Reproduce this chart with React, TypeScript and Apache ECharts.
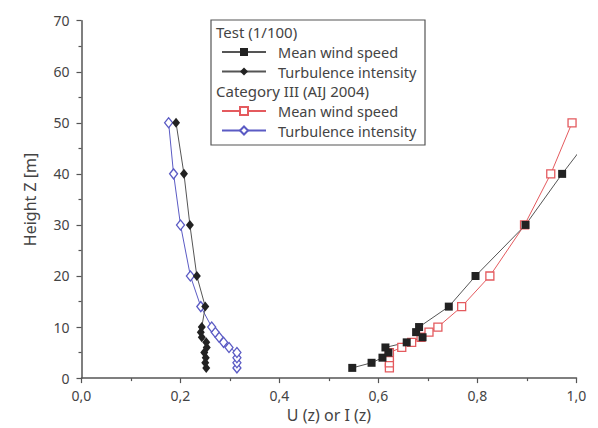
import React, { useEffect, useRef } from "react";
import * as echarts from "echarts";

const heights = [2, 3, 4, 5, 6, 7, 8, 9, 10, 14, 20, 30, 40, 50];
const testMeanU = [0.547, 0.586, 0.608, 0.62, 0.614, 0.657, 0.689, 0.676, 0.682, 0.742, 0.796, 0.897, 0.971, 1.05];
const testTI = [0.252, 0.25, 0.251, 0.248, 0.253, 0.252, 0.243, 0.241, 0.243, 0.25, 0.233, 0.219, 0.207, 0.191];
const aijMeanU = [0.622, 0.622, 0.622, 0.622, 0.647, 0.667, 0.686, 0.702, 0.72, 0.768, 0.825, 0.895, 0.948, 0.991];
const aijTI = [0.314, 0.314, 0.314, 0.314, 0.298, 0.287, 0.278, 0.27, 0.263, 0.241, 0.22, 0.2, 0.186, 0.176];

const groupTest = "Test (1/100)";
const groupAij = "Category III (AIJ 2004)";
const nameMean = "Mean wind speed";
const nameTI = "Turbulence intensity";

const FONT = "Noto Sans";
const TXT = "#444";
const AX = "#555";
const RED = "#e45a5e";
const BLUE = "#5b5bc4";
const BLK = "#222";

const pairs = (xs: number[], ys: number[]) => xs.map((x, i) => [x, ys[i]]);

export default function App() {
  const ref = useRef<HTMLDivElement>(null);
  useEffect(() => {
    const chart = echarts.init(ref.current!, null, { renderer: "svg" });
    const fmt = (v: number) => v.toFixed(1).replace(".", ",");
    const legendItem = (name: string, centerY: number) => ({
      data: [name],
      orient: "vertical",
      left: 221,
      top: centerY - 7,
      itemWidth: 44,
      itemHeight: 10,
      padding: 0,
      formatter: (n: string) => n.split("|")[1],
      textStyle: { fontSize: 14.5, lineHeight: 14, color: TXT, fontFamily: FONT, padding: [0, 0, 0, 7] },
      selectedMode: false,
    });
    chart.setOption({
      animation: false,
      textStyle: { fontFamily: FONT },
      grid: { left: 81.5, right: 21.5, top: 20.7, bottom: 47.3 },
      xAxis: {
        type: "value",
        min: 0,
        max: 1,
        interval: 0.2,
        name: "U (z) or I (z)",
        nameLocation: "middle",
        nameGap: 28,
        nameTextStyle: { fontSize: 16, color: TXT, fontFamily: FONT },
        axisLine: { show: true, onZero: false, lineStyle: { color: AX, width: 1.5 } },
        axisTick: { show: true, length: 5, lineStyle: { color: AX, width: 1.2 } },
        minorTick: { show: true, splitNumber: 2, length: 3, lineStyle: { color: AX, width: 1.2 } },
        axisLabel: { formatter: fmt, fontSize: 14, color: TXT, margin: 10, fontFamily: FONT },
        splitLine: { show: false },
        minorSplitLine: { show: false },
      },
      yAxis: {
        type: "value",
        min: 0,
        max: 70,
        interval: 10,
        name: "Height Z [m]",
        nameLocation: "middle",
        nameGap: 44,
        nameTextStyle: { fontSize: 16, color: TXT, fontFamily: FONT },
        axisLine: { show: true, onZero: false, lineStyle: { color: AX, width: 1.5 } },
        axisTick: { show: true, length: 5, lineStyle: { color: AX, width: 1.2 } },
        minorTick: { show: true, splitNumber: 2, length: 3, lineStyle: { color: AX, width: 1.2 } },
        axisLabel: { fontSize: 14, color: TXT, margin: 12, fontFamily: FONT },
        splitLine: { show: false },
        minorSplitLine: { show: false },
      },
      legend: [
        legendItem(groupTest + "|" + nameMean, 51.5),
        legendItem(groupTest + "|" + nameTI, 71),
        legendItem(groupAij + "|" + nameMean, 110.5),
        legendItem(groupAij + "|" + nameTI, 130),
      ],
      graphic: [
        {
          type: "rect",
          shape: { x: 211, y: 20, width: 214, height: 125 },
          style: { fill: "#fff", stroke: AX, lineWidth: 1.2 },
          z: -1,
          silent: true,
        },
        {
          type: "text",
          x: 216,
          y: 31.5,
          style: { text: groupTest, fontSize: 15, fill: TXT, fontFamily: FONT, verticalAlign: "middle" },
        },
        {
          type: "text",
          x: 216,
          y: 91,
          style: { text: groupAij, fontSize: 15, fill: TXT, fontFamily: FONT, verticalAlign: "middle" },
        },
      ],
      series: [
        {
          name: groupAij + "|" + nameMean,
          type: "line",
          data: pairs(aijMeanU, heights),
          symbol: "rect",
          symbolSize: 8,
          lineStyle: { color: RED, width: 1 },
          itemStyle: { color: "#fff", borderColor: RED, borderWidth: 1.3 },
        },
        {
          name: groupAij + "|" + nameTI,
          type: "line",
          data: pairs(aijTI, heights),
          symbol: "diamond",
          symbolSize: [8, 10],
          lineStyle: { color: BLUE, width: 1 },
          itemStyle: { color: "#fff", borderColor: BLUE, borderWidth: 1.3 },
        },
        {
          name: groupTest + "|" + nameMean,
          type: "line",
          data: pairs(testMeanU, heights),
          symbol: "rect",
          symbolSize: 8,
          lineStyle: { color: "#555", width: 1 },
          itemStyle: { color: BLK },
        },
        {
          name: groupTest + "|" + nameTI,
          type: "line",
          data: pairs(testTI, heights),
          symbol: "diamond",
          symbolSize: [8, 10],
          lineStyle: { color: "#555", width: 1 },
          itemStyle: { color: BLK },
        },
      ],
    });
    return () => chart.dispose();
  }, []);
  return (
    <div
      ref={ref}
      style={{ position: "fixed", left: 0, top: 0, width: 598, height: 428, background: "#fff" }}
    />
  );
}
